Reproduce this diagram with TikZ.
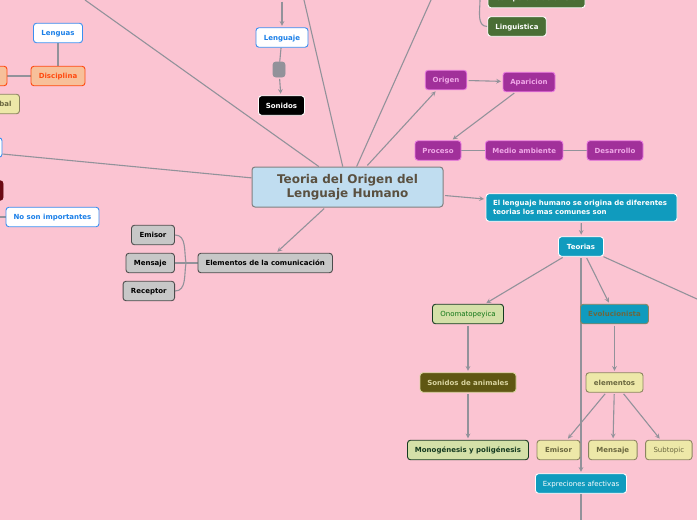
\documentclass[tikz,border=0pt]{standalone}
\usepackage{fontspec}
\setmainfont{DejaVu Sans}
\usetikzlibrary{backgrounds}
\definecolor{bgpink}{HTML}{FBC4D2}
\definecolor{linkgray}{HTML}{92929A}
\definecolor{rootblue}{HTML}{C0DDF0}
\definecolor{rootink}{HTML}{5A5040}
\definecolor{bluelink}{HTML}{3B8FF0}
\definecolor{blueink}{HTML}{1A7FE8}
\definecolor{plumfill}{HTML}{A1309A}
\definecolor{plumedge}{HTML}{E878E0}
\definecolor{pluminkk}{HTML}{F0A8E8}
\definecolor{leaf}{HTML}{4A6E35}
\definecolor{tealfill}{HTML}{109BBE}
\definecolor{sandfill}{HTML}{EDE8A8}
\definecolor{sandedge}{HTML}{8B8560}
\definecolor{sandink}{HTML}{6B6840}
\definecolor{palefill}{HTML}{D4E0A8}
\definecolor{pineink}{HTML}{153A20}
\definecolor{olive}{HTML}{5F5713}
\definecolor{oliveink}{HTML}{D9D4A0}
\definecolor{peach}{HTML}{F7C09A}
\definecolor{flame}{HTML}{FF4A10}
\definecolor{wine}{HTML}{6B0A14}
\begin{document}
\begin{tikzpicture}[x=1pt,y=-1pt,>=stealth,
    main node/.style={rectangle,rounded corners=3pt,draw,line width=.9pt,inner sep=0pt,minimum height=19.5pt,text height=6.5pt,text depth=1.1pt,font=\bfseries\fontsize{7}{9}\selectfont},
    wide node/.style={text height=,text depth=},
    white node/.style={main node,fill=white,draw=bluelink,text=blueink},
    plum node/.style={main node,fill=plumfill,draw=plumedge,text=pluminkk},
    leaf node/.style={main node,fill=leaf,draw=white,text=white},
    gray node/.style={main node,fill=black!22,draw=black!70,text=black},
    teal node/.style={main node,fill=tealfill,draw=white,text=white},
    sand node/.style={main node,fill=sandfill,draw=sandedge,text=sandink},
    pale node/.style={main node,fill=palefill,draw=pineink},
    flame node/.style={main node,fill=peach,draw=flame,text=flame},
    link/.style={every edge/.style={draw=linkgray,line width=1.1pt}},
    arrow link/.style={every edge/.style={draw=linkgray,line width=1.1pt,->,shorten >=1.5pt,shorten <=1.5pt}}]
\useasboundingbox (0,0) rectangle (697,520);

\node[main node,wide node,fill=rootblue,draw=black!50,text=rootink,line width=1pt,minimum width=191pt,minimum height=40pt,align=center,font=\bfseries\fontsize{12}{14}\selectfont] (root) at (347.5,187) {Teoria del Origen del\\Lenguaje Humano};

\node[white node,minimum width=49pt] (lenguas) at (58,33) {Lenguas};
\node[flame node,minimum width=54pt] (disciplina) at (58,76) {Disciplina};
\node[flame node,minimum width=54pt] (oculto) at (-20,76) {};
\node[sand node,inner xsep=8pt,text width=50pt,align=right] (verbal) at (-13.5,104) {bal};
\node[white node,minimum width=136pt] (izquierda) at (-66,147.5) {};
\node[main node,fill=wine,draw=wine,minimum width=66pt] (oscuro) at (-30,190.5) {};
\node[white node,minimum width=93pt] (importantes) at (52.5,217) {No son importantes};
\coordinate (borde) at (0,217);

\node[white node,minimum width=52pt] (lenguaje) at (282,37.5) {Lenguaje};
\node[main node,fill=linkgray,draw=linkgray,minimum width=12pt,minimum height=15pt] (vacio) at (279,69.5) {};
\node[main node,fill=black,draw=white,text=white,minimum width=46pt] (sonidos) at (281.5,105.5) {Sonidos};

\node[gray node,minimum width=134.5pt] (elementos) at (265.2,263) {Elementos de la comunicación};
\node[gray node,minimum width=43pt] (emisor) at (153,235) {Emisor};
\node[gray node,minimum width=48.5pt] (mensaje) at (150.2,263) {Mensaje};
\node[gray node,minimum width=51.5pt] (receptor) at (148.8,291) {Receptor};
\coordinate (union) at (186,263);

\node[leaf node,minimum width=97pt] (campo) at (536.5,-2) {Campo evolucionista};
\node[leaf node,minimum width=58.5pt] (linguistica) at (517,26.5) {Linguistica};
\coordinate (rama) at (480,0);

\node[plum node,minimum width=41.5pt] (origen) at (446,80) {Origen};
\node[plum node,minimum width=52pt] (aparicion) at (529,82) {Aparicion};
\node[plum node,minimum width=46pt] (proceso) at (438,150.5) {Proceso};
\node[plum node,minimum width=77.5pt] (medio) at (524.2,150.5) {Medio ambiente};
\node[plum node,minimum width=56pt] (desarrollo) at (615,150.5) {Desarrollo};

\node[teal node,wide node,minimum width=191pt,minimum height=27.5pt,text width=177pt,align=left] (humano) at (581.5,207.5) {El lenguaje humano se origina de diferentes\\teorias los mas comunes son};
\node[teal node,minimum width=45pt] (teorias) at (581,246.5) {Teorias};
\node[pale node,minimum width=71pt,text=pineink!70!green,font=\fontsize{7}{9}\selectfont] (onomatopeyica) at (468,314) {Onomatopeyica};
\node[main node,fill=tealfill,draw=sandedge,text=sandink,minimum width=68pt] (evolucionista) at (614.5,314) {Evolucionista};
\node[main node,fill=olive,draw=oliveink,text=oliveink,minimum width=96pt] (animales) at (468,382.5) {Sonidos de animales};
\node[sand node,minimum width=57pt] (partes) at (614.5,382.5) {elementos};
\node[pale node,minimum width=121pt,text=pineink] (monogenesis) at (468,450) {Monogénesis y poligénesis};
\node[sand node,minimum width=43pt] (emisor2) at (558.5,450) {Emisor};
\node[sand node,minimum width=48.5pt] (mensaje2) at (612.8,450) {Mensaje};
\node[sand node,minimum width=46.5pt,font=\fontsize{7}{9}\selectfont] (subtopic) at (668.8,450) {Subtopic};
\node[teal node,minimum width=91pt,font=\fontsize{7}{9}\selectfont] (expreciones) at (581,483.5) {Expreciones afectivas};

\coordinate (arribaA) at (85,0);
\coordinate (arribaB) at (304,0);
\coordinate (arribaC) at (431,0);
\coordinate (arribaD) at (282,0);
\coordinate (derecha) at (697,299);
\coordinate (abajo) at (581,520);

\begin{scope}[on background layer]
\fill[bgpink] (0,0) rectangle (697,520);
\path[link]
    (root) edge (arribaA)
    (root) edge (arribaB)
    (root) edge (arribaC)
    (root) edge (izquierda)
    (lenguas) edge (disciplina)
    (disciplina) edge (oculto)
    (borde) edge (importantes)
    (lenguaje) edge (vacio)
    (elementos) edge (union)
    (union) edge (mensaje)
    (union) edge[out=100,in=0] (emisor)
    (union) edge[out=-100,in=0] (receptor)
    (rama) edge[out=-90,in=180] (linguistica)
    (proceso) edge (medio)
    (medio) edge (desarrollo)
    (teorias) edge (derecha)
    (expreciones) edge (abajo)
    ;
\path[arrow link]
    (arribaD) edge (lenguaje)
    (vacio) edge (sonidos)
    (root) edge (elementos)
    (root) edge (origen)
    (origen) edge (aparicion)
    (aparicion) edge (proceso)
    (root) edge (humano)
    (humano) edge (teorias)
    (teorias) edge (onomatopeyica)
    (teorias) edge (evolucionista)
    (teorias) edge (expreciones)
    (onomatopeyica) edge (animales)
    (animales) edge (monogenesis)
    (evolucionista) edge (partes)
    (partes) edge (emisor2)
    (partes) edge (mensaje2)
    (partes) edge (subtopic)
    ;
\end{scope}
\end{tikzpicture}
\end{document}
